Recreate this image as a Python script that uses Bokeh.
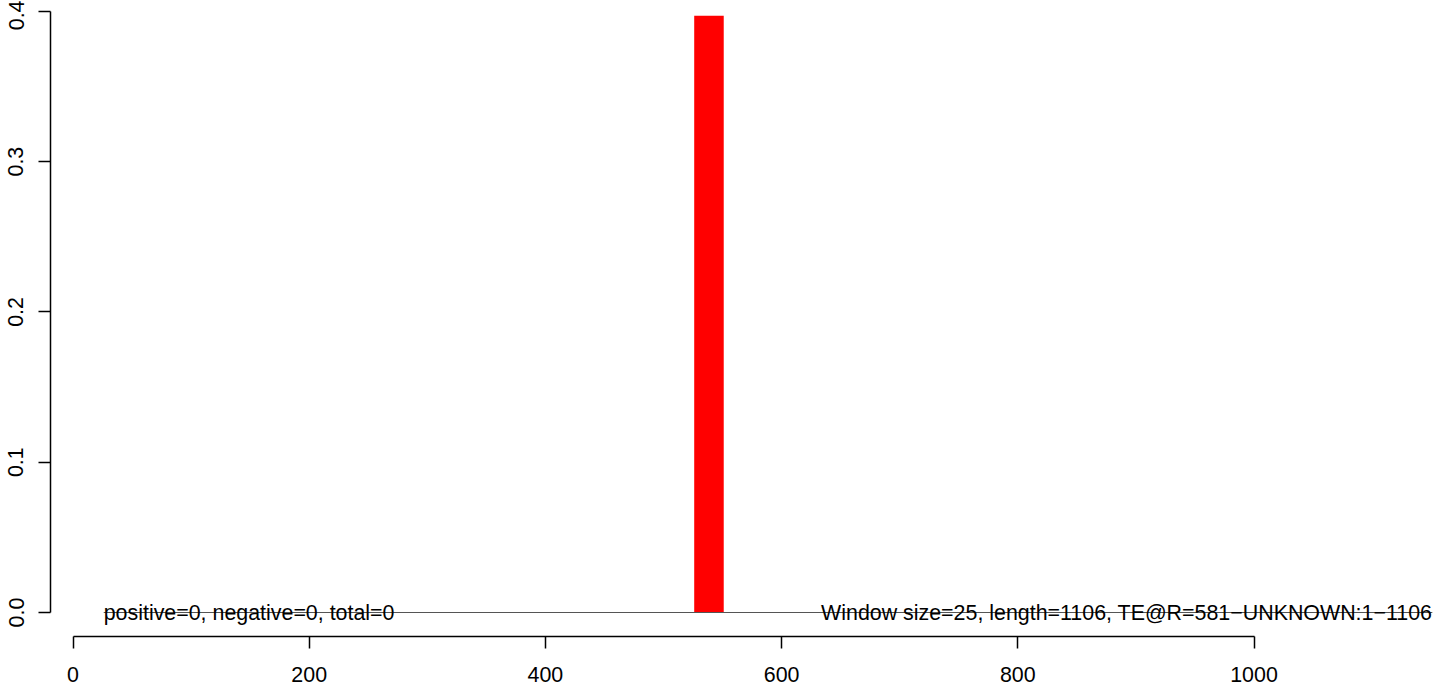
from bokeh.plotting import figure
from bokeh.models import Range1d, FixedTicker, LinearAxis
from bokeh.core.properties import value
from bokeh.embed import file_html
from bokeh.resources import INLINE

# ---- data ----
bar_left = [526]
bar_right = [551]
bar_top = [0.397]

base_x = [26, 1151]
base_y = [0, 0]

left_note = "positive=0, negative=0, total=0"
right_note = "Window size=25, length=1106, TE@R=581\u2212UNKNOWN:1\u22121106"

x_ticks = [0, 200, 400, 600, 800, 1000]
y_ticks = [0.0, 0.1, 0.2, 0.3, 0.4]
y_tick_labels = ["0.0", "0.1", "0.2", "0.3", "0.4"]

FONT = "Liberation Sans"
FS = "21.4px"

PXX = 1.181   # px per x unit
PXY = 1503.0  # px per y unit

p = figure(width=1436, height=687, output_backend="svg", toolbar_location=None,
           x_axis_location=None, y_axis_location=None,
           min_border_left=50, min_border_right=0, min_border_top=0, min_border_bottom=51)
x0 = (50 - 72.5) / PXX
p.x_range = Range1d(x0, x0 + 1386 / PXX)
p.y_range = Range1d(-24 / PXY, 612 / PXY)
p.outline_line_color = None
p.xgrid.visible = False
p.ygrid.visible = False
p.background_fill_color = "white"
p.border_fill_color = "white"

p.quad(left=bar_left, right=bar_right, bottom=0, top=bar_top,
       fill_color="#FF0000", line_color=None)
p.line(base_x, base_y, line_color="#555555", line_width=1)

p.text(x=[base_x[0]], y=[0], text=[left_note], text_align="left", text_baseline="alphabetic",
       text_font=value(FONT), text_font_size=FS, text_color="black")
p.text(x=[base_x[1]], y=[0], text=[right_note], text_align="right", text_baseline="alphabetic",
       text_font=value(FONT), text_font_size=FS, text_color="black")

xa = LinearAxis(ticker=FixedTicker(ticks=x_ticks), bounds=(x_ticks[0], x_ticks[-1]))
ya = LinearAxis(ticker=FixedTicker(ticks=y_ticks), bounds=(y_ticks[0], y_ticks[-1]))
ya.major_label_overrides = {t: l for t, l in zip(y_ticks, y_tick_labels)}
for ax in (xa, ya):
    ax.axis_line_color = "black"
    ax.axis_line_width = 1.5
    ax.major_tick_line_color = "black"
    ax.major_tick_line_width = 1.5
    ax.major_tick_out = 12
    ax.major_tick_in = 0
    ax.minor_tick_line_color = None
    ax.major_label_text_font = FONT
    ax.major_label_text_font_size = FS
    ax.major_label_text_color = "black"
xa.major_label_standoff = 18
ya.major_label_standoff = 15
ya.major_label_orientation = "vertical"
p.add_layout(xa, "below")
p.add_layout(ya, "left")

open("out.html", "w").write(file_html(p, INLINE))
